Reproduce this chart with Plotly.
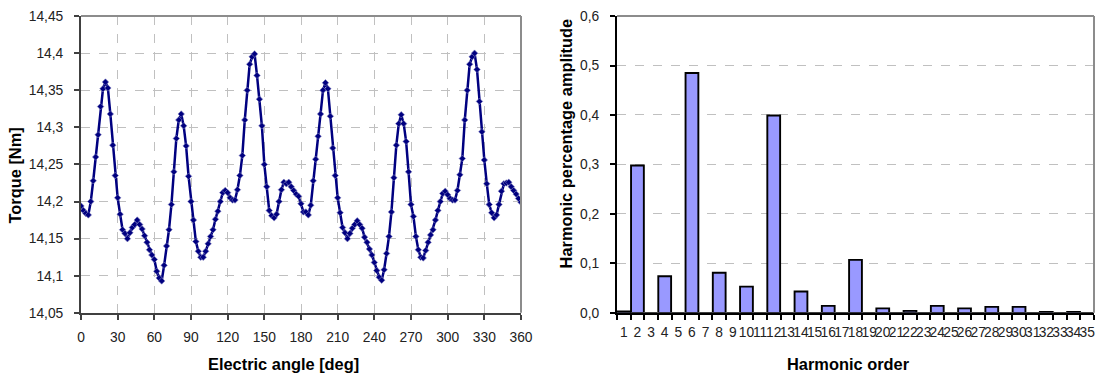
import plotly.graph_objects as go

# Torque ripple over one electrical period (2 deg steps)
angle_deg = list(range(0, 361, 2))
torque_nm = [
    14.194, 14.188, 14.184, 14.182, 14.200, 14.228, 14.260, 14.290, 14.328, 14.352,
    14.361, 14.353, 14.318, 14.276, 14.235, 14.205, 14.183, 14.162, 14.157, 14.150,
    14.158, 14.165, 14.169, 14.175, 14.169, 14.163, 14.154, 14.145, 14.135, 14.128,
    14.122, 14.106, 14.097, 14.093, 14.114, 14.140, 14.162, 14.196, 14.240, 14.285,
    14.310, 14.318, 14.302, 14.275, 14.234, 14.200, 14.175, 14.146, 14.133, 14.125,
    14.125, 14.133, 14.143, 14.153, 14.162, 14.176, 14.187, 14.200, 14.212, 14.215,
    14.212, 14.205, 14.202, 14.202, 14.216, 14.235, 14.262, 14.310, 14.350, 14.385,
    14.395, 14.399, 14.370, 14.338, 14.302, 14.250, 14.220, 14.188, 14.181, 14.178,
    14.183, 14.200, 14.216, 14.226, 14.224, 14.226, 14.220, 14.215, 14.210, 14.207,
    14.197,
    14.186, 14.186, 14.182, 14.195, 14.228, 14.257, 14.288, 14.318, 14.350, 14.360,
    14.352, 14.315, 14.272, 14.235, 14.205, 14.185, 14.165, 14.158, 14.150, 14.157,
    14.164, 14.169, 14.174, 14.169, 14.164, 14.152, 14.145, 14.136, 14.128, 14.118,
    14.107, 14.098, 14.094, 14.108, 14.130, 14.153, 14.186, 14.232, 14.276, 14.305,
    14.317, 14.305, 14.281, 14.240, 14.196, 14.180, 14.153, 14.135, 14.125, 14.124,
    14.134, 14.145, 14.155, 14.162, 14.175, 14.188, 14.200, 14.211, 14.214, 14.209,
    14.204, 14.202, 14.202, 14.215, 14.236, 14.258, 14.310, 14.350, 14.385, 14.395,
    14.400, 14.378, 14.335, 14.294, 14.256, 14.224, 14.196, 14.185, 14.178, 14.182,
    14.196, 14.214, 14.224, 14.225, 14.226, 14.220, 14.215, 14.210, 14.204, 14.199,
]

# Harmonic spectrum of the torque
harmonic_order = [str(n) for n in range(1, 36)]
harmonic_amp = [
    0.003, 0.298, 0.0, 0.074, 0.0, 0.485, 0.0, 0.081, 0.0, 0.053,
    0.0, 0.399, 0.0, 0.043, 0.0, 0.014, 0.0, 0.107, 0.0, 0.009,
    0.0, 0.004, 0.0, 0.014, 0.0, 0.009, 0.0, 0.012, 0.0, 0.012,
    0.0, 0.002, 0.0, 0.002, 0.0,
]

angle_ticks = list(range(0, 361, 30))

# Layout grid (positions below are given on a 1105 x 374 grid)
W, H = 1105, 374
# Size of the graph div on the page (page margin included)
DIV_W, DIV_H = W + 16, H + 16

FONT = "Liberation Sans, Arial, sans-serif"
TICK_FONT = dict(family=FONT, size=13.8, color="#222222")
TITLE_FONT = dict(family=FONT, size=16.4, color="#000000")


def fx(px):
    return px / W


def fy(px):
    return 1 - px / H


left_dom = [fx(85), fx(525)]
right_dom = [fx(621), fx(1098)]
y_dom = [fy(313), fy(17)]

fig = go.Figure()

fig.add_trace(go.Scatter(
    x=angle_deg, y=torque_nm, mode="lines+markers",
    line=dict(color="#000080", width=2.5),
    marker=dict(symbol="diamond", size=5, color="#000080",
                line=dict(width=0.6, color="#8080c0")),
    xaxis="x", yaxis="y", showlegend=False,
))

fig.add_trace(go.Bar(
    x=harmonic_order, y=harmonic_amp,
    marker=dict(color="#9999ff", line=dict(color="#000000", width=1.9)),
    xaxis="x2", yaxis="y2", showlegend=False,
))

grid = dict(showgrid=True, gridcolor="#c0c0c0", griddash="dash", gridwidth=1)

fig.update_layout(
    autosize=True,
    margin=dict(l=0, r=0, t=0, b=0),
    paper_bgcolor="white", plot_bgcolor="white",
    separators=", ",
    bargap=0.06,
    xaxis=dict(domain=left_dom, anchor="y", range=[0, 360],
               tickmode="array", tickvals=angle_ticks,
               ticks="outside", ticklen=5, tickwidth=1.5, tickcolor="#404040",
               showline=True, linecolor="#404040", linewidth=2,
               tickfont=TICK_FONT, ticklabelstandoff=6,
               zeroline=False, **grid),
    yaxis=dict(domain=y_dom, anchor="x", range=[14.05, 14.45], dtick=0.05,
               tick0=14.05,
               ticks="outside", ticklen=5, tickwidth=1.5, tickcolor="#404040",
               showline=True, linecolor="#404040", linewidth=2,
               tickfont=TICK_FONT, ticklabelstandoff=8,
               zeroline=False, **grid),
    xaxis2=dict(domain=right_dom, anchor="y2", type="category",
                range=[-0.5, 34.5], tickson="boundaries", tickangle=0,
                tickmode="linear", tick0=0, dtick=1,
                ticks="outside", ticklen=5, tickwidth=1.5, tickcolor="#000000",
                showline=True, linecolor="#000000", linewidth=2,
                tickfont=TICK_FONT,
                ticklabelstandoff=6, showgrid=False, zeroline=False),
    yaxis2=dict(domain=y_dom, anchor="x2", range=[0, 0.6], dtick=0.1,
                tickformat=".1f",
                ticks="outside", ticklen=5, tickwidth=1.5, tickcolor="#000000",
                showline=True, linecolor="#000000", linewidth=2,
                tickfont=TICK_FONT, ticklabelstandoff=8,
                zeroline=False, **grid),
)

# Grey frame on the top and right sides of both plot areas
for xd, yd in (("x domain", "y domain"), ("x2 domain", "y2 domain")):
    fig.add_shape(type="line", xref=xd, yref=yd, x0=0, x1=1, y0=1, y1=1,
                  line=dict(color="#8c8c8c", width=2))
    fig.add_shape(type="line", xref=xd, yref=yd, x0=1, x1=1, y0=0, y1=1,
                  line=dict(color="#8c8c8c", width=2))

annotations = [
    dict(text="<b>Torque [Nm]</b>", x=fx(19), y=fy(176), textangle=-90),
    dict(text="<b>Electric angle [deg]</b>", x=fx(287), y=fy(364)),
    dict(text="<b>Harmonic percentage amplitude</b>", x=fx(570), y=fy(144),
         textangle=-90),
    dict(text="<b>Harmonic order</b>", x=fx(852), y=fy(364)),
]
for a in annotations:
    fig.add_annotation(xref="paper", yref="paper", showarrow=False,
                       xanchor="center", yanchor="middle",
                       font=TITLE_FONT, **a)

# Graph div covering the whole page; the negative margin cancels the body margin
fig.write_html("out.html",
               default_width=f"{DIV_W}px; margin:-8px",
               default_height=f"{DIV_H}px")
